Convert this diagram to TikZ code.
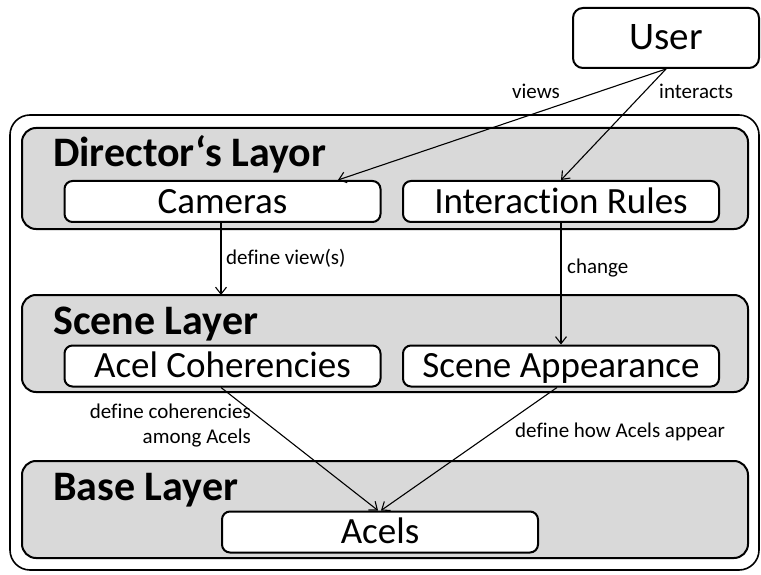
\documentclass[tikz,border=0pt]{standalone}
\usepackage{fontspec}
\setmainfont{Carlito}[Ligatures=NoCommon]
\usetikzlibrary{arrows.meta,positioning}

\tikzset{
  layer/.style={draw=black, line width=2pt, fill=black!15, rounded corners=14pt},
  frame/.style={draw=black, line width=1.6pt, rounded corners=20pt},
  item/.style={draw=black, line width=2pt, fill=white, rounded corners=8pt,
    minimum width=316pt, minimum height=41pt, inner sep=0pt,
    text height=30.5pt, text depth=7pt,
    font=\fontsize{37}{42}\selectfont},
  title/.style={anchor=base west, inner sep=0pt, font=\fontsize{42}{48}\selectfont\bfseries},
  note/.style={inner sep=0pt, font=\fontsize{21}{25}\selectfont},
  flow/.style={line width=1.1pt, -{Straight Barb[length=7pt,width=11pt,line width=1.1pt]}}
}

\begin{document}
\begin{tikzpicture}[x=1pt, y=-1pt]
  \useasboundingbox (0,0) rectangle (761,575);

  % outer system frame and the three layers
  \draw[frame] (10,115) rectangle (759,570);
  \draw[layer] (22,128) rectangle (748,229);
  \draw[layer] (22,295) rectangle (748,392);
  \draw[layer] (22,461) rectangle (748,558);

  \node[title] (tdir) at (53,167) {Director‘s Layor};
  \node[title] (tscn) at (53,334) {Scene Layer};
  \node[title] (tbas) at (53,500) {Base Layer};

  % boxes
  \node[item, minimum width=186pt, minimum height=60pt, rounded corners=10pt,
        text height=31pt, text depth=7pt,
        font=\fontsize{39}{44}\selectfont] (user) at (666,38) {User};
  \node[item] (cam) at (222.5,201.5) {Cameras};
  \node[item] (rules) at (561,201.5) {Interaction Rules};
  \node[item] (coh) at (222.5,366) {Acel Coherencies};
  \node[item] (app) at (561,366) {Scene Appearance};
  \node[item] (acels) at (380,532) {Acels};

  % connector end point on the scene layer frame
  \coordinate (scntop) at (221,295);

  % connectors
  \draw[flow] (user.south) -- (cam.north -| 338,0);
  \draw[flow] (user.south) -- (rules.north);
  \draw[flow] (cam.south -| 221,0) -- (scntop);
  \draw[flow] (rules.south) -- (app.north);
  \draw[flow] (coh.south -| 221,0) -- (acels.north -| 378,0);
  \draw[flow] (app.south -| 557,0) -- (acels.north -| 381,0);

  % connector labels
  \node[note, anchor=east] (lviews) at (560,91) {views};
  \node[note, anchor=west] (linter) at (659,91) {interacts};
  \node[note, anchor=west] (ldefv) at (226,258) {define view(s)};
  \node[note, anchor=west] (lchg) at (567,268) {change};
  \node[note, anchor=east, align=right] (lcoh) at (251,426) {define coherencies\\among Acels};
  \node[note, anchor=west] (lhow) at (515,432) {define how Acels appear};
\end{tikzpicture}
\end{document}
